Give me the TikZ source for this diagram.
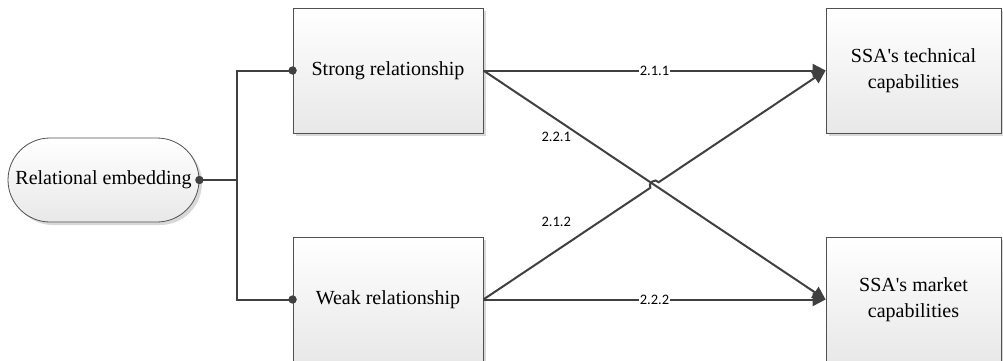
\documentclass[tikz,border=0pt]{standalone}
\usepackage{fontspec}
\setmainfont{Liberation Serif}
\newfontfamily\serif{Liberation Serif}
\newfontfamily\nummer{Carlito}
\usetikzlibrary{arrows.meta,calc,shadows}

\begin{document}
\begin{tikzpicture}[x=1pt,y=-1pt,
		kasten/.style={draw=rahmen,line width=0.8pt,top color=white,bottom color=black!9,
			minimum width=190pt,minimum height=125pt,align=center,inner sep=0pt,
			font=\serif\fontsize{20}{26}\selectfont,
			drop shadow={shadow xshift=3pt,shadow yshift=-3pt,fill=black!30,opacity=0.5}},
		linie/.style={draw=dunkel,line width=2pt},
		pfeil/.style={linie,-{Triangle[length=13pt,width=13pt]}},
		zahl/.style={font=\nummer\fontsize{14.5}{14.5}\selectfont,inner sep=1pt}]

		\definecolor{dunkel}{HTML}{404040}
		\definecolor{rahmen}{HTML}{505050}

		\clip (0,0) rectangle (1003,360);

		% Knoten
		\node[kasten,minimum width=191pt,minimum height=84pt,rounded corners=42pt] (re) at (103.5,180) {Relational embedding};
		\node[kasten] (sr) at (388,70.5) {Strong relationship};
		\node[kasten] (wr) at (388,299.5) {Weak relationship};
		\node[kasten,minimum width=175pt] (tc) at (913.5,70.5) {SSA\textquotesingle s technical\\capabilities};
		\node[kasten,minimum width=175pt] (mc) at (913.5,299.5) {SSA\textquotesingle s market\\capabilities};

		% Verzweigung
		\coordinate (jn) at ($(re.east)+(38,0)$);
		\draw[linie] (re.east) -- (jn);
		\draw[linie] (sr.west) -| (jn) |- (wr.west);
		\foreach \k in {re.east,sr.west,wr.west} \fill[dunkel] (\k) circle (4.2pt);

		% Pfeile
		\draw[pfeil] (sr.east) -- (tc.west) node[zahl,fill=white,midway] (z211) {2.1.1};
		\draw[pfeil] (wr.east) -- (mc.west) node[zahl,fill=white,midway] (z222) {2.2.2};
		\draw[pfeil] (sr.east) -- (mc.west) node[zahl,pos=0.213,yshift=-17.5pt] (z221) {2.2.1};
		% Sprung ueber die Kreuzung
		\coordinate (kr) at ($(wr.east)!0.5!(tc.west)$);
		\coordinate (h1) at ($(kr)!5pt!(wr.east)$);
		\coordinate (h2) at ($(kr)!5pt!(tc.west)$);
		\draw[pfeil] (wr.east) -- (h1) to[bend left=90,looseness=1.4] (h2) -- (tc.west);
		\node[zahl] (z212) at ($(wr.east)!0.213!(tc.west)+(0,-29)$) {2.1.2};

\end{tikzpicture}
\end{document}
